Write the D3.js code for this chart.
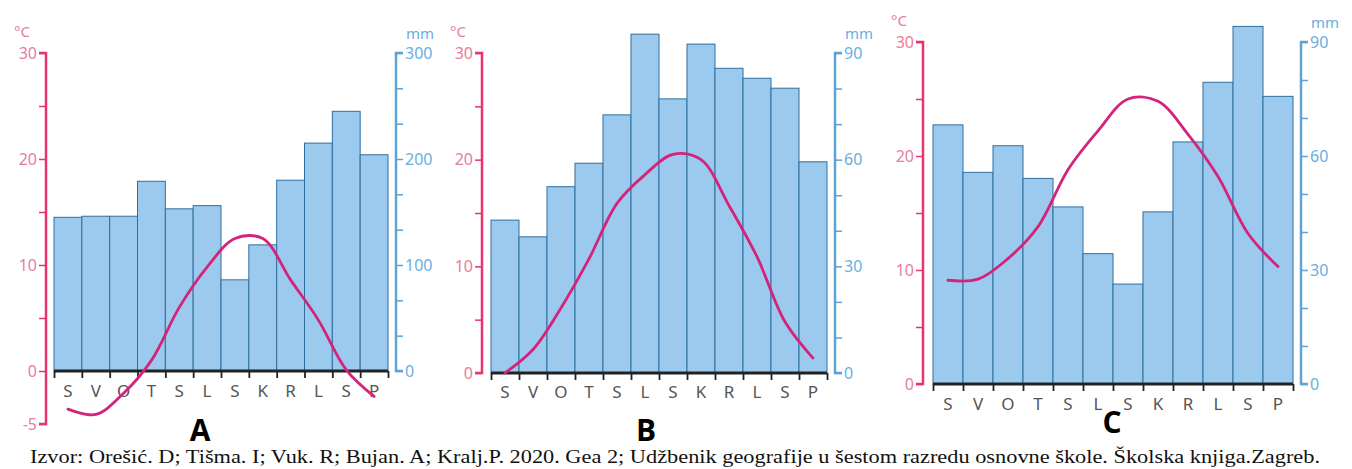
<!DOCTYPE html>
<html><head><meta charset="utf-8">
<script src="https://cdn.jsdelivr.net/npm/d3@7/dist/d3.min.js"></script>
<style>
html,body{margin:0;padding:0;background:#fff;}
svg{display:block;}
</style>
</head><body>
<svg id="c" width="1352" height="469"></svg>
<script>
const months = ["S","V","O","T","S","L","S","K","R","L","S","P"];

const precipA = [145, 146, 146, 179, 153, 156, 86, 119, 180, 215, 245, 204];
const tempA   = [-3.6, -4.1, -2.1, 1.0, 6.0, 9.8, 12.5, 12.5, 8.6, 4.8, 0.1, -2.4];

const precipB = [43, 38.3, 52.4, 59, 72.6, 95.3, 77.1, 92.5, 85.7, 82.9, 80.1, 59.4];
const tempB   = [0.0, 2.2, 6.1, 10.7, 15.9, 18.6, 20.5, 20.0, 15.7, 10.9, 4.8, 1.4];

const precipC = [68.2, 55.7, 62.7, 54.1, 46.6, 34.3, 26.3, 45.3, 63.7, 79.4, 94.1, 75.7];
const tempC   = [9.1, 9.2, 11.0, 13.8, 18.8, 22.2, 25.0, 24.8, 21.9, 18.2, 13.2, 10.3];

const tempTicksA = [-5, 0, 10, 20, 30];
const tempTicksBC = [0, 10, 20, 30];
const precipTicksA = [0, 100, 200, 300];
const precipTicksBC = [0, 30, 60, 90];
const panelLetters = ["A", "B", "C"];
const sourceText = "Izvor: Orešić. D; Tišma. I; Vuk. R; Bujan. A; Kralj.P. 2020. Gea 2; Udžbenik geografije u šestom razredu osnovne škole. Školska knjiga.Zagreb.";

const PINK_AXIS = "#e8336f", PINK_TXT = "#e77d9d";
const BLUE_AXIS = "#5ca3d6", BLUE_TXT = "#6aaee0";
const BAR_FILL = "#9ccaee", BAR_STROKE = "#2f6f9f";
const LINE = "#d4237a";
const FONT = "'Noto Sans', 'DejaVu Sans', sans-serif";

const svg = d3.select("#c");

function panel(cfg) {
  const g = svg.append("g");
  const x = d3.scaleBand().domain(d3.range(12)).range([cfg.x0, cfg.x1]).padding(0);
  const yT = d3.scaleLinear().domain(cfg.tDomain).range([cfg.yBottomT, cfg.yTop]);
  const yP = d3.scaleLinear().domain(cfg.pDomain).range([cfg.y0, cfg.yTop]);

  // bars
  g.selectAll("rect.bar").data(cfg.precip).join("rect")
    .attr("x", (d,i) => x(i)).attr("width", x.bandwidth())
    .attr("y", d => yP(d)).attr("height", d => yP(0) - yP(d))
    .attr("fill", BAR_FILL).attr("stroke", BAR_STROKE).attr("stroke-width", 1);

  // left axis (temperature)
  const tMinor = d3.range(cfg.tDomain[0], cfg.tDomain[1] + 0.01, 5);
  const axL = d3.axisLeft(yT).tickValues(tMinor).tickSize(7)
    .tickFormat(d => cfg.tTicks.includes(d) ? d : "");
  const gl = g.append("g").attr("transform", `translate(${cfg.lx},0)`).call(axL);
  gl.select(".domain").attr("stroke", PINK_AXIS).attr("stroke-width", 2.5)
    .attr("d", `M-7,${yT(cfg.tDomain[1])}H0V${yT(cfg.tDomain[0])}H-7`);
  gl.selectAll(".tick line").attr("stroke", PINK_AXIS).attr("stroke-width", 1.5);
  gl.selectAll(".tick text").attr("fill", PINK_TXT).attr("font-family", FONT)
    .attr("font-size", 16).attr("x", -9);
  g.append("text").attr("x", cfg.lx - 24).attr("y", cfg.yTop - 16)
    .attr("text-anchor", "middle").attr("fill", PINK_TXT)
    .attr("font-family", FONT).attr("font-size", 15).text("°C");

  // right axis (precipitation)
  const pStep = (cfg.pDomain[1] - cfg.pDomain[0]) / 9;
  const pMinor = d3.range(0, 10).map(i => i * pStep);
  const axR = d3.axisRight(yP).tickValues(pMinor).tickSize(7)
    .tickFormat(d => { const r = Math.round(d); return (cfg.pTicks.includes(r) && Math.abs(r-d) < 0.01) ? r : ""; });
  const gr = g.append("g").attr("transform", `translate(${cfg.rx},0)`).call(axR);
  gr.select(".domain").attr("stroke", BLUE_AXIS).attr("stroke-width", 2.5)
    .attr("d", `M7,${yP(cfg.pDomain[1])}H0V${yP(0)}H7`);
  gr.selectAll(".tick line").attr("stroke", BLUE_AXIS).attr("stroke-width", 1.5);
  gr.selectAll(".tick text").attr("fill", BLUE_TXT).attr("font-family", FONT)
    .attr("font-size", 16).attr("x", 9);
  g.append("text").attr("x", cfg.rx + 24).attr("y", cfg.yTop - 14)
    .attr("text-anchor", "middle").attr("fill", BLUE_TXT)
    .attr("font-family", FONT).attr("font-size", 15).text("mm");

  // bottom axis
  const xb = d3.scaleLinear().domain([0, 12]).range([cfg.x0, cfg.x1]);
  const axB = d3.axisBottom(xb).tickValues(d3.range(13)).tickSize(7).tickFormat("");
  const gb = g.append("g").attr("transform", `translate(0,${cfg.y0})`).call(axB);
  gb.select(".domain").attr("stroke", "#222").attr("stroke-width", 3).attr("d", `M${cfg.x0},0H${cfg.x1}`);
  gb.selectAll(".tick line").attr("stroke", "#222").attr("stroke-width", 1.8);
  g.selectAll("text.m").data(months).join("text").attr("class", "m")
    .attr("x", (d,i) => x(i) + x.bandwidth()/2).attr("y", cfg.labelY)
    .attr("text-anchor", "middle").attr("dominant-baseline", "middle")
    .attr("fill", "#555").attr("font-family", FONT).attr("font-size", 17).text(d => d);

  // temperature line
  const line = d3.line().x((d,i) => x(i) + x.bandwidth()/2).y(d => yT(d)).curve(d3.curveCatmullRom.alpha(0.5));
  g.append("path").datum(cfg.temp).attr("d", line)
    .attr("fill", "none").attr("stroke", LINE).attr("stroke-width", 2.8)
    .attr("stroke-linejoin", "round").attr("stroke-linecap", "round");

  // panel letter
  g.append("text").attr("x", cfg.letterX).attr("y", cfg.letterY)
    .attr("text-anchor", "middle")
    .attr("font-family", "'Open Sans', 'Liberation Sans', Arial, sans-serif").attr("font-weight", "bold")
    .attr("font-size", 30).attr("fill", "#000").text(cfg.letter);
}

panel({x0: 54, x1: 388, lx: 46, rx: 396, yTop: 53, y0: 371, yBottomT: 424,
  tDomain: [-5, 30], pDomain: [0, 300], tTicks: tempTicksA, pTicks: precipTicksA,
  precip: precipA, temp: tempA, labelY: 392, letter: panelLetters[0], letterX: 200, letterY: 441});

panel({x0: 491, x1: 827, lx: 482, rx: 835, yTop: 53, y0: 373, yBottomT: 373,
  tDomain: [0, 30], pDomain: [0, 90], tTicks: tempTicksBC, pTicks: precipTicksBC,
  precip: precipB, temp: tempB, labelY: 393, letter: panelLetters[1], letterX: 646, letterY: 441});

panel({x0: 933, x1: 1293, lx: 923, rx: 1301, yTop: 42, y0: 384, yBottomT: 384,
  tDomain: [0, 30], pDomain: [0, 90], tTicks: tempTicksBC, pTicks: precipTicksBC,
  precip: precipC, temp: tempC, labelY: 405, letter: panelLetters[2], letterX: 1112, letterY: 433});

svg.append("text").attr("x", 30).attr("y", 463).attr("text-anchor", "start")
  .attr("font-family", "'Liberation Serif', 'Times New Roman', serif")
  .attr("font-size", 18).attr("textLength", 1290).attr("lengthAdjust", "spacingAndGlyphs")
  .attr("fill", "#111").text(sourceText);
</script>
</body></html>
